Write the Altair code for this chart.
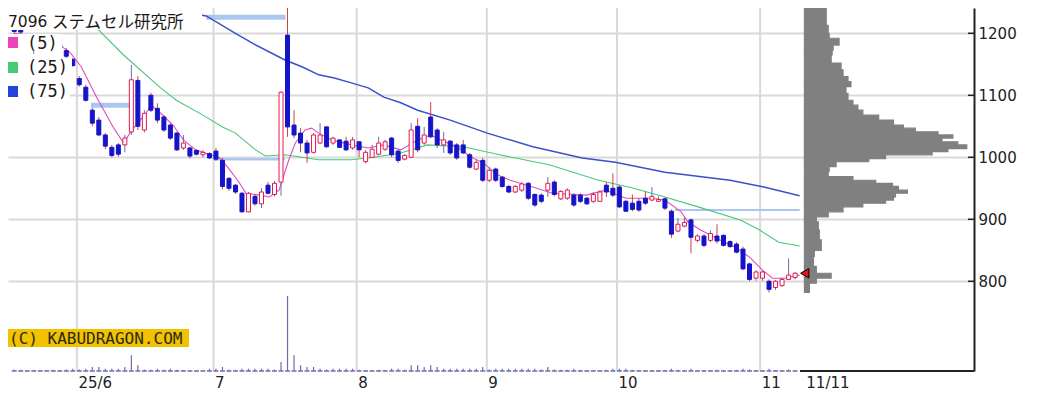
import altair as alt
import pandas as pd

# ---------------- data ----------------
day_index = list(range(-10, 111))  # trading-day slots, 0 = 2 Jun 2025, 110 = 11 Nov 2025

opens = [1218, 1212, 1190, 1185, 1192, 1180, 1190, 1182, 1172, 1158,
         1127, 1113, 1076, 1060, 1036, 1016, 1020, 1020, 1041, 1124,
         1044, 1100, 1079, 1065, 1052, 1039, 1015, 1015, 1011, 1004,
         1006, 1010, 995, 966, 955, 942, 912, 937, 925, 955,
         940, 960, 1197, 1052, 1039, 1023, 1008, 1023, 1049, 1023,
         1028, 1026, 1015, 1025, 993, 1000, 1005, 1013, 1031, 1010,
         997, 1000, 1050, 1023, 1065, 1044, 1020, 1026, 1020, 1020,
         1004, 981, 995, 963, 981, 968, 953, 944, 947, 958,
         940, 939, 947, 960, 933, 934, 939, 939, 934, 929,
         929, 955, 950, 952, 929, 926, 929, 934, 931, 929,
         933, 913, 881, 889, 899, 866, 873, 866, 873, 874,
         864, 860, 852, 828, 805, 805, 800, 790, 793, 803, 806]
highs = [1224, 1216, 1197, 1196, 1196, 1192, 1194, 1190, 1176, 1160,
         1131, 1117, 1080, 1065, 1039, 1020, 1023, 1036, 1149, 1131,
         1076, 1104, 1087, 1068, 1055, 1041, 1036, 1017, 1013, 1012,
         1008, 1015, 999, 968, 957, 944, 944, 940, 950, 960,
         962, 1106, 1249, 1076, 1047, 1028, 1039, 1055, 1050, 1033,
         1029, 1033, 1033, 1026, 1012, 1020, 1033, 1028, 1033, 1012,
         1005, 1055, 1063, 1049, 1089, 1047, 1041, 1028, 1023, 1028,
         1007, 996, 999, 984, 983, 970, 955, 955, 960, 960,
         942, 942, 968, 963, 947, 950, 942, 942, 936, 944,
         947, 960, 974, 955, 931, 940, 934, 945, 952, 937,
         935, 916, 902, 903, 901, 876, 876, 882, 892, 876,
         866, 863, 856, 830, 818, 817, 803, 802, 806, 837, 815]
lows = [1199, 1199, 1180, 1167, 1178, 1176, 1176, 1174, 1160, 1146,
        1114, 1090, 1050, 1034, 1013, 1000, 1001, 1008, 1036, 1044,
        1040, 1073, 1055, 1041, 1028, 1010, 1012, 998, 1003, 1000,
        997, 994, 948, 946, 941, 911, 911, 922, 918, 940,
        937, 938, 1033, 1031, 1008, 991, 1006, 1021, 1015, 1020,
        1015, 1010, 1012, 1000, 990, 999, 1003, 1010, 1000, 991,
        995, 999, 1008, 1020, 1031, 1015, 1007, 1004, 996, 1005,
        982, 979, 960, 960, 960, 951, 942, 942, 944, 931,
        920, 926, 936, 937, 931, 931, 920, 926, 923, 926,
        928, 936, 936, 918, 912, 913, 912, 923, 929, 928,
        915, 870, 879, 887, 845, 863, 855, 863, 861, 856,
        854, 845, 818, 800, 801, 801, 782, 786, 791, 802, 803]
closes = [1203, 1202, 1195, 1192, 1182, 1188, 1180, 1178, 1163, 1148,
          1117, 1092, 1055, 1036, 1018, 1003, 1005, 1031, 1125, 1050,
          1071, 1076, 1060, 1044, 1031, 1012, 1023, 1002, 1005, 1008,
          999, 997, 953, 950, 944, 912, 942, 925, 944, 942,
          958, 1105, 1049, 1036, 1023, 1007, 1036, 1036, 1017, 1031,
          1016, 1012, 1028, 1012, 1008, 1013, 1023, 1025, 1004, 995,
          1003, 1044, 1012, 1036, 1033, 1020, 1028, 1007, 999, 1007,
          984, 992, 963, 979, 963, 953, 944, 953, 957, 934,
          923, 929, 958, 940, 945, 947, 923, 929, 925, 940,
          944, 944, 939, 920, 913, 916, 915, 926, 937, 932,
          918, 876, 892, 895, 871, 873, 858, 877, 865, 858,
          856, 847, 820, 803, 815, 815, 787, 800, 803, 810, 813]
volumes = [30, 25, 20, 25, 20, 20, 25, 20, 30, 46,
           30, 46, 80, 80, 46, 46, 46, 80, 314, 114,
           30, 25, 46, 25, 46, 25, 20, 20, 15, 15,
           46, 46, 80, 30, 25, 46, 46, 46, 46, 46,
           30, 180, 1500, 314, 114, 80, 80, 46, 30, 46,
           46, 46, 46, 25, 20, 20, 25, 20, 46, 46,
           25, 114, 114, 80, 114, 80, 46, 46, 46, 46,
           46, 46, 80, 30, 46, 46, 46, 46, 46, 46,
           46, 30, 80, 30, 25, 25, 46, 25, 20, 20,
           20, 25, 46, 46, 46, 25, 20, 20, 20, 15,
           20, 46, 25, 20, 46, 20, 20, 20, 25, 20,
           20, 25, 46, 30, 20, 20, 46, 20, 20, 30, 20]
red_volume_days = [9, 48, 72]

ma5_idx = [-10, -7, -4, -1.5, 0.3, 2.7, 5.3, 6.8, 7.9, 10.2, 11.1, 12.5, 14.4, 16.0, 17.9,
           20.1, 21.6, 23.1, 24.6, 25.6, 27.7, 29.2, 30.7, 32.2, 33.2, 34.7, 35.7, 36.8,
           38.8, 41.8, 44.4, 46.8, 49.4, 52.0, 54.0, 56.0, 58.1, 60.1, 62.1, 64.2, 66.2,
           69.7, 72.7, 77.9, 80.9, 84.0, 87.9, 90.0, 92.5, 93.5, 95.4, 98.4, 100.8, 103.0,
           105.0, 106.5, 108.4, 110.7]
ma5_val = [1200, 1196, 1188, 1170, 1146, 1096, 1047, 1023, 1041, 1071, 1084, 1071, 1052, 1028,
           1012, 1004, 999, 980, 959, 942, 939, 936, 947, 996, 1023, 1044, 1047, 1039, 1028,
           1020, 1015, 1020, 1012, 1028, 1036, 1026, 1017, 1001, 991, 972, 963, 952, 942,
           939, 947, 934, 934, 931, 912, 896, 883, 867, 855, 839, 818, 805, 805, 810]

ma25_idx = [-10, -3.5, -1.8, 2.6, 6.8, 12.5, 14.9, 19.0, 22.0, 24.0, 27.1, 28.6, 31.6, 36.8,
            41.8, 45.3, 49.4, 53.5, 59.0, 64.6, 72.2, 79.8, 84.9, 90.0, 95.1, 101.6, 104.5,
            107.5, 110.7]
ma25_val = [1300, 1254, 1246, 1209, 1165, 1112, 1092, 1068, 1049, 1039, 1012, 1002, 1004, 996,
            996, 1000, 1007, 1020, 1017, 1004, 988, 963, 951, 936, 920, 899, 883, 863, 857]

ma75_idx = [-10, 0, 5.8, 11.9, 19.5, 24.0, 26.6, 31.6, 34.2, 36.8, 39.2, 41.8, 44.4, 46.8,
            49.4, 52.0, 57.0, 62.7, 69.7, 77.3, 82.4, 90.0, 100.0, 105.2, 110.7]
ma75_val = [1290, 1268, 1254, 1242, 1228, 1200, 1184, 1157, 1146, 1133, 1128, 1120, 1112, 1097,
            1088, 1076, 1060, 1039, 1017, 999, 992, 976, 963, 952, 938]

# horizontal light-blue price lines
sr_price = [1226, 1084, 997, 915]
sr_start = [19.5, 1.8, 20.5, 91.5]
sr_end = [31.7, 7.9, 31.6, 110.7]
sr_weight = [5, 5, 2.5, 2]

# month grid / labels (slot positions of first trading day of each month)
month_pos = [-0.37, 20.63, 42.63, 62.63, 82.63, 104.63]
month_lab = ["25/6", "7", "8", "9", "10", "11"]
last_pos = 111.5
last_lab = "11/11"

price_ticks = [800, 900, 1000, 1100, 1200]

# price-by-volume profile (bin edges in yen, volume per bin)
profile_edges = [782, 797, 805, 813, 824, 840, 850, 867, 883, 896, 904, 912, 920, 926, 931,
                 936, 942, 947, 953, 958, 963, 969, 977, 985, 993, 998, 1004, 1009, 1014,
                 1020, 1025, 1031, 1036, 1041, 1047, 1052, 1060, 1068, 1076, 1084, 1092,
                 1103, 1114, 1122, 1130, 1141, 1152, 1165, 1173, 1181, 1192, 1200, 1213, 1247]
profile_vol = [5, 12, 27, 12, 9, 10, 17, 15, 14, 12, 24, 39, 59, 82, 90, 92, 104, 95, 89, 72,
               49, 24, 25, 32, 65, 82, 129, 145, 164, 155, 139, 150, 135, 112, 100, 90, 75, 59,
               54, 49, 44, 42, 47, 44, 39, 37, 27, 28, 29, 35, 25, 24, 22]

last_close = 813

# ---------------- styling / layout ----------------
UP = "#e8194f"
DOWN = "#1414c8"
C_MA5 = "#e24cbf"
C_MA25 = "#46c878"
C_MA75 = "#3a50cc"
C_SR = "#a9c7ef"
GRID = "#d9d9d9"
C_PROF = "#808080"
C_VOL = "#6c6cb0"

W, H = 966, 363
X_DOMAIN = [-10.19, 136.73]
Y_DOMAIN = [655.3, 1240.8]
SLOT_PX = W / (X_DOMAIN[1] - X_DOMAIN[0])
PRICE_PER_PX = (Y_DOMAIN[1] - Y_DOMAIN[0]) / H
VOL_PER_PX = 20.0
PROFILE_X0 = 111.44

xs = alt.Scale(domain=X_DOMAIN, nice=False, zero=False)
ys = alt.Scale(domain=Y_DOMAIN, nice=False, zero=False)

df = pd.DataFrame({"i": day_index, "open": opens, "high": highs, "low": lows,
                   "close": closes, "vol": volumes})
df["dir"] = ["up" if c >= o else "down" for o, c in zip(opens, closes)]
df["vcol"] = ["red" if i in red_volume_days else "base" for i in day_index]

dir_fill = alt.Scale(domain=["up", "down"], range=["#ffffff", DOWN])
dir_stroke = alt.Scale(domain=["up", "down"], range=[UP, DOWN])

# x axis labels expression
all_pos = month_pos + [last_pos]
all_lab = month_lab + [last_lab]
expr = "''"
for p, l in reversed(list(zip(all_pos, all_lab))):
    expr = f"abs(datum.value - ({p})) < 0.01 ? '{l}' : ({expr})"

x_axis = alt.Axis(values=all_pos, labelExpr=expr, grid=False, ticks=False, domain=False,
                  labelAlign="left", labelBaseline="top", labelFont="DejaVu Sans",
                  labelFontSize=15, labelColor="#222", labelPadding=4, labelOffset=1,
                  labelFlush=False, labelOverlap=False, labelBound=False, title=None)
y_axis = alt.Axis(orient="right", values=price_ticks, format="d", grid=True, gridColor=GRID,
                  gridWidth=2, tickSize=0, labelFont="DejaVu Sans", labelFontSize=15,
                  labelColor="#222", labelPadding=4, domainColor="#222", domainWidth=2,
                  title=None)


def X(field, **kw):
    return alt.X(field, scale=xs, axis=x_axis, **kw)


def Y(field, **kw):
    return alt.Y(field, scale=ys, axis=y_axis, **kw)


one = pd.DataFrame({"k": [0]})

# month vertical grid lines
vgrid = alt.Chart(pd.DataFrame({"pos": month_pos})).mark_rule(color=GRID, strokeWidth=2).encode(
    x=X("pos:Q"))

sr_df = pd.DataFrame({"p": sr_price, "s": sr_start, "e": sr_end, "w": sr_weight})
sr_lines = alt.Chart(sr_df).mark_rule(color=C_SR, clip=True).encode(
    x=X("s:Q"), x2="e:Q", y=Y("p:Q"),
    strokeWidth=alt.StrokeWidth("w:Q", scale=None))

# volume, drawn along the bottom of the price panel
vol_rules = alt.Chart(df).transform_calculate(
    vb=f"{Y_DOMAIN[0]}",
    vt=f"{Y_DOMAIN[0]} + datum.vol / {VOL_PER_PX} * {PRICE_PER_PX}"
).mark_rule(strokeWidth=1.2).encode(
    x=X("i:Q"), y=Y("vt:Q"), y2="vb:Q",
    color=alt.Color("vcol:N", scale=alt.Scale(domain=["base", "red"], range=[C_VOL, "#d04040"]),
                    legend=None))
vol_ticks = alt.Chart(df).transform_calculate(vb=f"{Y_DOMAIN[0]}").mark_tick(
    orient="horizontal", size=5, thickness=1.5, color=C_VOL, opacity=1).encode(
    x=X("i:Q"), y=Y("vb:Q"))


def ma_line(idx, val, color, width):
    d = pd.DataFrame({"i": idx, "v": val})
    return alt.Chart(d).mark_line(color=color, strokeWidth=width, clip=True).encode(
        x=X("i:Q"), y=Y("v:Q"))


ma75 = ma_line(ma75_idx, ma75_val, C_MA75, 1.5)
ma25 = ma_line(ma25_idx, ma25_val, C_MA25, 1.1)
ma5 = ma_line(ma5_idx, ma5_val, C_MA5, 1.1)

wicks = alt.Chart(df).mark_rule(strokeWidth=1, clip=True).encode(
    x=X("i:Q"), y=Y("low:Q"), y2="high:Q",
    color=alt.Color("dir:N", scale=dir_stroke, legend=None))

bodies = alt.Chart(df).mark_bar(size=4, strokeWidth=1, clip=True).encode(
    x=X("i:Q"), y=Y("open:Q"), y2="close:Q",
    fill=alt.Fill("dir:N", scale=dir_fill, legend=None),
    stroke=alt.Stroke("dir:N", scale=dir_stroke, legend=None))

prof_df = pd.DataFrame({"lo": profile_edges[:-1], "hi": profile_edges[1:], "vol": profile_vol})
profile = alt.Chart(prof_df).transform_calculate(
    xa=f"{PROFILE_X0}", xb=f"{PROFILE_X0} + datum.vol / {SLOT_PX}"
).mark_rect(color=C_PROF, stroke=C_PROF, strokeWidth=1.2, clip=True).encode(
    x=X("xa:Q"), x2="xb:Q", y=Y("lo:Q"), y2="hi:Q")

tri = alt.Chart(pd.DataFrame({"i": [PROFILE_X0 + 0.05], "p": [last_close]})).mark_point(
    shape="triangle-left", size=90, filled=True, fill="#ee1111", stroke="#000",
    strokeWidth=1, opacity=1).encode(x=X("i:Q"), y=Y("p:Q"))

yticks = alt.Chart(pd.DataFrame({"p": price_ticks})).mark_rule(color="#222", strokeWidth=1.5).encode(
    y=Y("p:Q"), x=alt.value(W - 6), x2=alt.value(W))

bottom_line = alt.Chart(one).mark_rule(color="#222", strokeWidth=2).encode(
    x=alt.value(792), x2=alt.value(W), y=alt.value(H))


def box(x1, x2, y1, y2, color):
    return alt.Chart(one).mark_rect(color=color).encode(
        x=alt.value(x1), x2=alt.value(x2), y=alt.value(y1), y2=alt.value(y2))


def label(text, x, y, font, size, color="#1a1a1a"):
    return alt.Chart(one).mark_text(text=text, font=font, fontSize=size, align="left",
                                    baseline="middle", color=color).encode(
        x=alt.value(x), y=alt.value(y))


legend_layers = [
    box(0, 194, 0, 22, "white"),
    box(0, 54, 26, 43, "white"),
    box(0, 64, 50, 68, "white"),
    box(0, 62, 74, 92, "white"),
    box(0, 10, 29, 40, "#ee44bb"),
    box(0, 10, 54, 65, "#44cc77"),
    box(0, 10, 78, 89, "#2244dd"),
    label("7096", 0, 14, "DejaVu Sans", 15.5),
    label("ステムセル研究所", 44, 14.5, "Noto Sans CJK JP", 16.5),
    label("(5)", 19, 36, "DejaVu Sans Mono", 17),
    label("(25)", 19, 60, "DejaVu Sans Mono", 17),
    label("(75)", 19, 84, "DejaVu Sans Mono", 17),
    box(0, 181, 321, 339, "#f2c200"),
    label("(C) KABUDRAGON.COM", 1, 330.5, "DejaVu Sans Mono", 16, "#2a2a10"),
]

chart = alt.layer(vgrid, sr_lines, vol_rules, vol_ticks, ma75, ma25, ma5, wicks, bodies,
                  profile, tri, yticks, bottom_line, *legend_layers).properties(
    width=W, height=H,
    autosize=alt.AutoSizeParams(type="none"),
    padding={"left": 0, "top": 0, "right": 55, "bottom": 20},
    background="white",
).configure_view(stroke=None)

chart.save("out.html", embed_options={"renderer": "svg", "actions": False})
